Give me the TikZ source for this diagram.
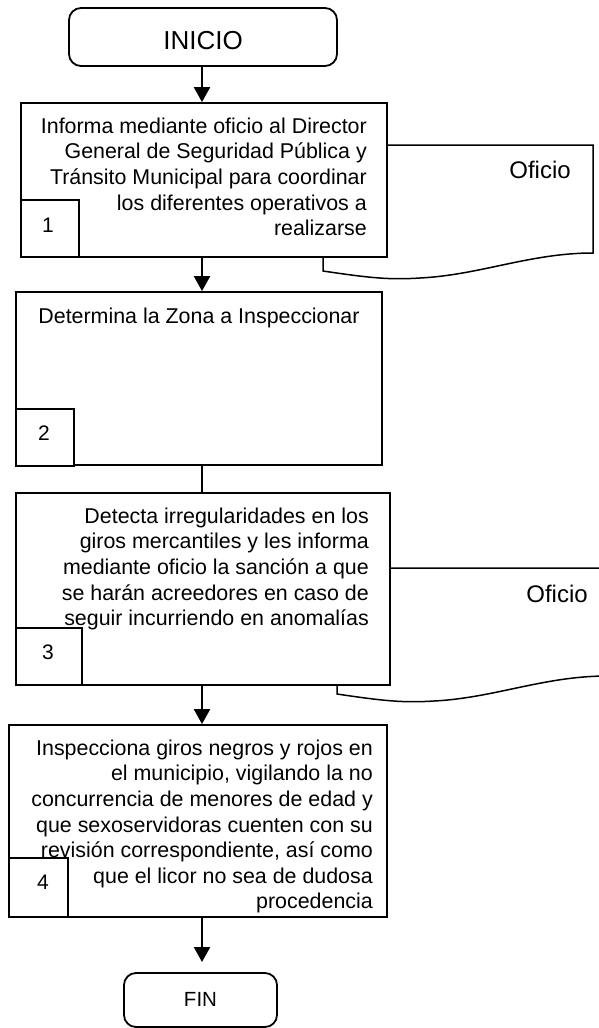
\documentclass[tikz,border=0pt]{standalone}
\usepackage{fontspec}
\setmainfont{Liberation Sans}
\usetikzlibrary{arrows.meta}
\tikzset{
  stepbox/.style={draw=black, line width=1.8pt, fill=white, rectangle, inner sep=0pt},
  termbox/.style={draw=black, line width=1.8pt, fill=white, rectangle, rounded corners=12pt, inner sep=0pt},
  numbox/.style={draw=black, line width=1.8pt, fill=white, rectangle, inner sep=0pt},
  doc/.style={draw=black, line width=1.5pt, line join=miter},
  txt/.style={inner sep=0pt, align=right, font={\fontsize{21.4}{25.6}\selectfont}},
  numtxt/.style={inner sep=0pt, font={\fontsize{21}{25.6}\selectfont}},
  arr/.style={line width=2.2pt, -{Triangle[length=15pt,width=16pt]}},
  plain/.style={line width=2.2pt}
}
\begin{document}
\begin{tikzpicture}[x=1pt,y=-1pt]
\useasboundingbox (0,0) rectangle (599,1028);
\fill[white] (0,0) rectangle (599,1028);
% documents (behind boxes)
\draw[doc] (323,145) -- (593,145) -- (593,253) .. controls (530,253) and (480,275) .. (420,278) .. controls (390,280) and (370,278) .. (323,271) -- cycle;
\draw[doc] (337,568) -- (607,568) -- (607,676) .. controls (544,676) and (494,698) .. (434,701) .. controls (404,703) and (384,701) .. (337,694) -- cycle;
\node[inner sep=0pt, anchor=base, font={\fontsize{24}{28}\selectfont}] (of1) at (540,178) {Oficio};
\node[inner sep=0pt, anchor=base, font={\fontsize{24}{28}\selectfont}] (of3) at (557,602) {Oficio};
% boxes
\node[termbox, minimum width=268pt, minimum height=58pt] (ini) at (203,37) {};
\node[inner sep=0pt, anchor=base, font={\fontsize{26}{30}\selectfont}] (inilab) at (203,49) {INICIO};
\node[stepbox, minimum width=366pt, minimum height=154pt] (b1) at (204,180) {};
\node[stepbox, minimum width=366pt, minimum height=173pt] (b2) at (199,378.5) {};
\node[stepbox, minimum width=374pt, minimum height=192pt] (b3) at (203,589) {};
\node[stepbox, minimum width=378pt, minimum height=192pt] (b4) at (198,821) {};
\node[termbox, minimum width=153pt, minimum height=54pt] (fin) at (200.5,1000) {};
\node[inner sep=0pt, anchor=base, font={\fontsize{20.5}{25}\selectfont}] (finlab) at (200.5,1006) {FIN};
% texts
\node[txt, anchor=north east] (t1) at (367,115) {\rule{0pt}{18pt}Informa mediante oficio al Director\\General de Seguridad Pública y\\Tránsito Municipal para coordinar\\los diferentes operativos a\\realizarse};
\node[txt, anchor=base] (t2) at (199,323) {Determina la Zona a Inspeccionar};
\node[txt, anchor=north east] (t3) at (369,505) {\rule{0pt}{18pt}Detecta irregularidades en los\\giros mercantiles y les informa\\mediante oficio la sanción a que\\se harán acreedores en caso de\\seguir incurriendo en anomalías};
\node[txt, anchor=north east] (t4) at (373,737) {\rule{0pt}{18pt}Inspecciona giros negros y rojos en\\el municipio, vigilando la no\\concurrencia de menores de edad y\\que sexoservidoras cuenten con su\\revisión correspondiente, así como\\que el licor no sea de dudosa\\procedencia};
% number boxes
\node[numbox, minimum width=58pt, minimum height=57pt] (n1) at (50,228.5) {};
\node[numbox, minimum width=58pt, minimum height=57pt] (n2) at (45,437.5) {};
\node[numbox, minimum width=66pt, minimum height=57pt] (n3) at (49,656.5) {};
\node[numbox, minimum width=59pt, minimum height=59pt] (n4) at (38.5,887.5) {};
\node[numtxt] (l1) at (48,225) {1};
\node[numtxt] (l2) at (44,433.5) {2};
\node[numtxt] (l3) at (48,652) {3};
\node[numtxt] (l4) at (43,882) {4};
% connectors
\coordinate (ax) at (202,0);
\draw[arr] (ax |- ini.south) -- (ax |- b1.north);
\draw[arr] (ax |- b1.south) -- (ax |- b2.north);
\draw[plain] (ax |- b2.south) -- (ax |- b3.north);
\draw[arr] (ax |- b3.south) -- (ax |- b4.north);
\draw[arr] (ax |- b4.south) -- (202,962);
\end{tikzpicture}
\end{document}
